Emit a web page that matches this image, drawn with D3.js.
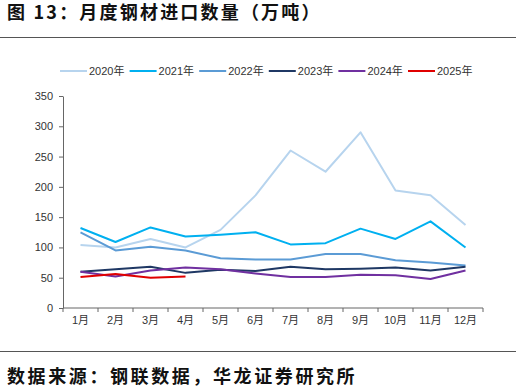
<!DOCTYPE html>
<html>
<head>
  <meta charset="utf-8" />
  <title>月度钢材进口数量</title>
  <script src="https://d3js.org/d3.v7.min.js"></script>
  <style>
    body {
      margin: 0;
      padding: 0;
      background: #fff;
    }
    svg {
      display: block;
    }
    .title, .source {
      font-family: "Noto Sans CJK SC", sans-serif;
      font-weight: bold;
      font-size: 18px;
      letter-spacing: 2.2px;
      fill: #111;
    }
    .source {
      letter-spacing: 2.6px;
    }
    .axis text, .legend text {
      font-family: "Liberation Sans", Arial, "Noto Sans CJK SC", sans-serif;
      font-size: 11px;
      fill: #333;
    }
    .axis path, .axis line {
      stroke: #666;
    }
  </style>
</head>
<body>
  <svg width="526" height="392"></svg>

  <script>
    const months = ["1月", "2月", "3月", "4月", "5月", "6月", "7月", "8月", "9月", "10月", "11月", "12月"];
    const yTicks = [0, 50, 100, 150, 200, 250, 300, 350];

    const years = ["2020年", "2021年", "2022年", "2023年", "2024年", "2025年"];
    const colors = ["#b7d4ee", "#00b0f0", "#5b9bd5", "#1f3864", "#7030a0", "#e00000"];

    const v2020 = [104, 100, 114, 100, 129, 186, 260, 225, 290, 194, 186, 137];
    const v2021 = [132, 109, 133, 118, 121, 125, 105, 107, 131, 114, 143, 100];
    const v2022 = [125, 95, 101, 95, 82, 80, 80, 89, 89, 79, 75, 70];
    const v2023 = [60, 64, 68, 58, 63, 61, 68, 64, 65, 67, 62, 68];
    const v2024 = [60, 52, 62, 67, 64, 57, 51, 51, 55, 54, 48, 62];
    const v2025 = [51, 56, 50, 52];

    const series = [v2020, v2021, v2022, v2023, v2024, v2025];

    const svg = d3.select("svg");

    // title + rules
    svg.append("text").attr("class", "title")
      .attr("x", 7).attr("y", 19)
      .text("图 13：月度钢材进口数量（万吨）");
    svg.append("line")
      .attr("x1", 0).attr("x2", 516).attr("y1", 37.5).attr("y2", 37.5)
      .attr("stroke", "#555").attr("stroke-width", 1.2);
    svg.append("line")
      .attr("x1", 0).attr("x2", 516).attr("y1", 351.5).attr("y2", 351.5)
      .attr("stroke", "#555").attr("stroke-width", 1.2);
    svg.append("text").attr("class", "source")
      .attr("x", 7).attr("y", 383)
      .text("数据来源：钢联数据，华龙证券研究所");

    const margin = { top: 96, left: 63, right: 43, bottom: 84 };
    const innerWidth = 526 - margin.left - margin.right;
    const innerHeight = 392 - margin.top - margin.bottom;

    const g = svg.append("g").attr("transform", `translate(${margin.left},${margin.top})`);

    const x = d3.scaleBand().domain(months).range([0, innerWidth]);
    const y = d3.scaleLinear().domain([0, 350]).range([innerHeight, 0]);

    // x axis, ticks sit on the band edges
    const xAxis = g.append("g").attr("class", "axis")
      .attr("transform", `translate(0,${innerHeight})`)
      .call(d3.axisBottom(x).tickSize(0).tickPadding(8));
    xAxis.select(".domain").attr("d", `M0,0H${innerWidth}`);
    xAxis.selectAll(".edge")
      .data(d3.range(months.length + 1))
      .enter().append("line")
      .attr("x1", i => i * x.step()).attr("x2", i => i * x.step())
      .attr("y1", 0).attr("y2", 4);

    g.append("g").attr("class", "axis")
      .call(d3.axisLeft(y).tickValues(yTicks).tickSize(4).tickSizeOuter(0).tickPadding(6));

    const line = d3.line()
      .x((d, i) => x(months[i]) + x.bandwidth() / 2)
      .y(d => y(d));

    g.selectAll(".series")
      .data(series)
      .enter().append("path")
      .attr("class", "series")
      .attr("fill", "none")
      .attr("stroke", (d, i) => colors[i])
      .attr("stroke-width", 2)
      .attr("stroke-linejoin", "round")
      .attr("d", line);

    // legend
    const legend = svg.append("g").attr("class", "legend")
      .attr("transform", "translate(60,71)");
    const item = legend.selectAll("g")
      .data(years)
      .enter().append("g")
      .attr("transform", (d, i) => `translate(${i * 69.6},0)`);
    item.append("line")
      .attr("x1", 0).attr("x2", 27)
      .attr("stroke", (d, i) => colors[i])
      .attr("stroke-width", 2);
    item.append("text")
      .attr("x", 29).attr("dy", "0.35em")
      .text(d => d);
  </script>
</body>
</html>
